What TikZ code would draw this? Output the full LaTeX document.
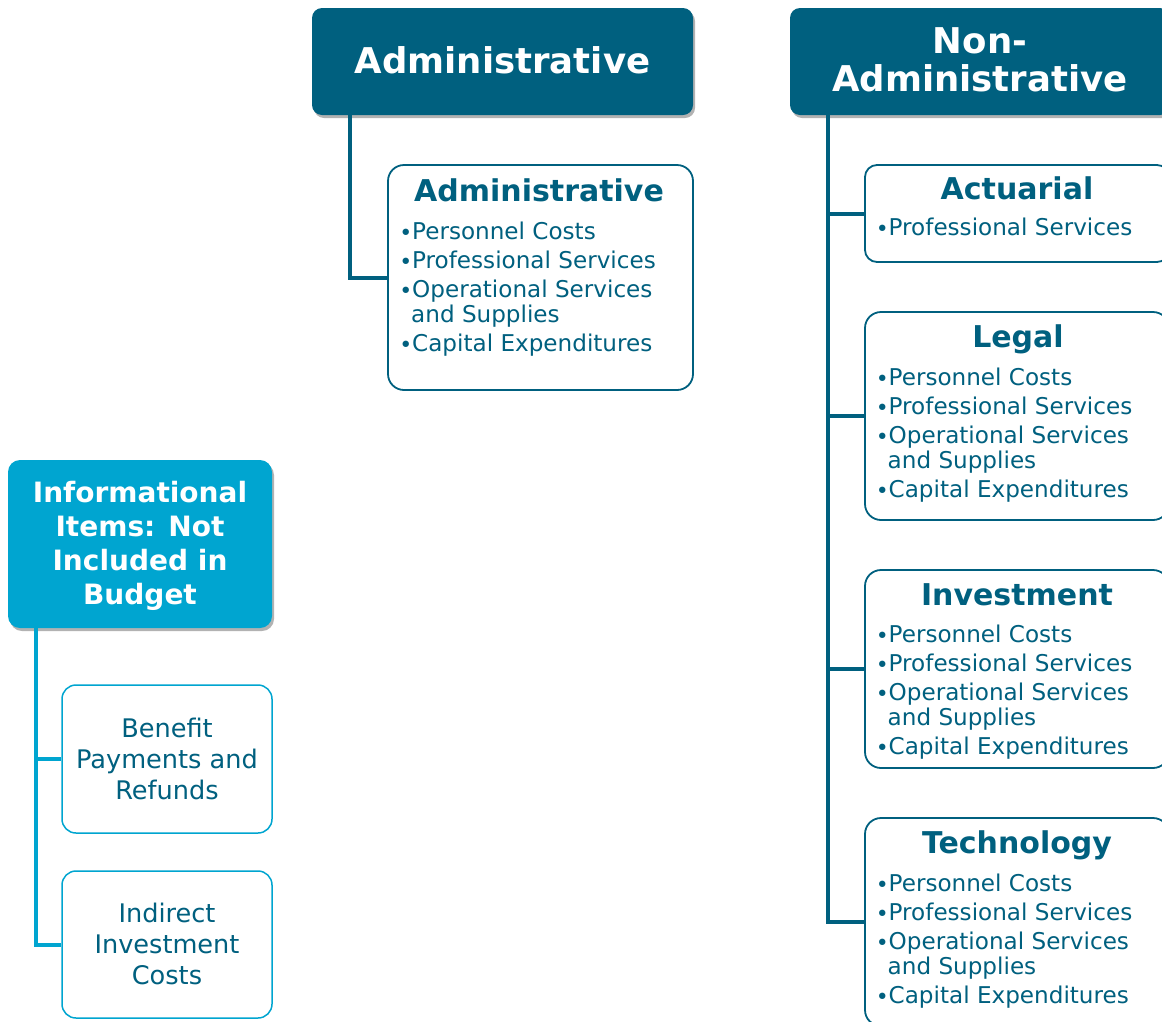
\documentclass[tikz,border=0pt]{standalone}
\usepackage{fontspec}
\setmainfont{DejaVu Sans}
\usetikzlibrary{shadows}
\definecolor{teal1}{HTML}{00607F}
\definecolor{cyan1}{HTML}{00A5D0}
\newcommand\bl{\makebox[12.5pt][c]{\fontsize{22}{22}\selectfont\raisebox{-1pt}{•}}}
\newcommand\ind{\hspace*{11.5pt}}
\tikzset{
  hdrbox/.style={fill=#1, draw=none, rounded corners=10pt, inner sep=0pt,
    drop shadow={shadow xshift=2pt, shadow yshift=-3pt, fill=black, opacity=0.3}},
  subbox/.style={draw=#1, line width=1.8pt, fill=white, rounded corners=16pt, inner sep=0pt},
  hdrtxt/.style={text=white, font=\bfseries\fontsize{35.5}{38}\selectfont, inner sep=0pt},
  inftxt/.style={text=white, font=\bfseries\fontsize{28}{34}\selectfont, inner sep=0pt},
  ttltxt/.style={text=teal1, font=\bfseries\fontsize{30}{36}\selectfont, inner sep=0pt, anchor=base},
  listtxt/.style={text=teal1, font=\fontsize{23.1}{29}\selectfont, inner sep=0pt, anchor=base west},
  itmtxt/.style={text=teal1, font=\fontsize{25.6}{31}\selectfont, inner sep=0pt, anchor=base},
  conn/.style={draw=#1, line width=4pt}
}
\begin{document}
\begin{tikzpicture}[x=1pt,y=-1pt]
\useasboundingbox (0,0) rectangle (1162,1021);
\clip (0,0) rectangle (1162,1021);

% header boxes
\node[hdrbox=teal1, minimum width=381pt, minimum height=107pt] (hadm) at (502.5,61.5) {};
\node[hdrbox=teal1, minimum width=380pt, minimum height=107pt] (hnon) at (980,61.5) {};
\node[hdrbox=cyan1, minimum width=264pt, minimum height=168pt, rounded corners=12pt] (hinf) at (140,544) {};

% sub boxes
\node[subbox=teal1, minimum width=305pt, minimum height=225pt] (badm) at (540.5,277.5) {};
\node[subbox=teal1, minimum width=304pt, minimum height=97pt, rounded corners=12pt] (bact) at (1017,213.5) {};
\node[subbox=teal1, minimum width=304pt, minimum height=208pt] (bleg) at (1017,416) {};
\node[subbox=teal1, minimum width=304pt, minimum height=198pt] (binv) at (1017,669) {};
\node[subbox=teal1, minimum width=304pt, minimum height=208pt] (btec) at (1017,922) {};
\node[subbox=cyan1, line width=1.5pt, minimum width=210pt, minimum height=148pt, rounded corners=14pt] (bben) at (167,759) {};
\node[subbox=cyan1, line width=1.5pt, minimum width=210pt, minimum height=147pt, rounded corners=14pt] (bind) at (167,944.5) {};

% connectors
\draw[conn=teal1] ([xshift=38pt]hadm.south west) |- (badm.west);
\draw[conn=teal1] ([xshift=38pt]hnon.south west) |- (bact.west);
\draw[conn=teal1] ([xshift=38pt]hnon.south west) |- (bleg.west);
\draw[conn=teal1] ([xshift=38pt]hnon.south west) |- (binv.west);
\draw[conn=teal1] ([xshift=38pt]hnon.south west) |- (btec.west);
\draw[conn=cyan1] ([xshift=28pt]hinf.south west) |- (bben.west);
\draw[conn=cyan1] ([xshift=28pt]hinf.south west) |- (bind.west);

% header texts
\node[hdrtxt, anchor=base] (tadm) at (502.5,73) {Administrative};
\node[hdrtxt, anchor=base] (tnon) at (980,53) {\begin{tabular}[t]{@{}c@{}}Non-\\Administrative\end{tabular}};
\node[inftxt, anchor=base] (tinf) at (140,502) {\begin{tabular}[t]{@{}c@{}}Informational\\Items: Not\\Included in\\Budget\end{tabular}};

% titles
\node[ttltxt] (ttadm) at (539,201) {Administrative};
\node[ttltxt] (ttact) at (1017,199) {Actuarial};
\node[ttltxt] (ttleg) at (1018,347) {Legal};
\node[ttltxt] (ttinv) at (1017,605) {Investment};
\node[ttltxt] (tttec) at (1017,853) {Technology};

% lists
\node[listtxt] (ladm) at (399.5,239) {\begin{tabular}[t]{@{}l@{}}\bl Personnel Costs\\\bl Professional Services\\\bl Operational Services\\[-4pt]\ind and Supplies\\\bl Capital Expenditures\end{tabular}};
\node[listtxt] (lact) at (876,235) {\bl Professional Services};
\node[listtxt] (lleg) at (876,385) {\begin{tabular}[t]{@{}l@{}}\bl Personnel Costs\\\bl Professional Services\\\bl Operational Services\\[-4pt]\ind and Supplies\\\bl Capital Expenditures\end{tabular}};
\node[listtxt] (linv) at (876,642) {\begin{tabular}[t]{@{}l@{}}\bl Personnel Costs\\\bl Professional Services\\\bl Operational Services\\[-4pt]\ind and Supplies\\\bl Capital Expenditures\end{tabular}};
\node[listtxt] (ltec) at (876,891) {\begin{tabular}[t]{@{}l@{}}\bl Personnel Costs\\\bl Professional Services\\\bl Operational Services\\[-4pt]\ind and Supplies\\\bl Capital Expenditures\end{tabular}};

% informational items
\node[itmtxt] (iben) at (167,737) {\begin{tabular}[t]{@{}c@{}}Benefit\\Payments and\\Refunds\end{tabular}};
\node[itmtxt] (iind) at (167,922) {\begin{tabular}[t]{@{}c@{}}Indirect\\Investment\\Costs\end{tabular}};
\end{tikzpicture}
\end{document}
